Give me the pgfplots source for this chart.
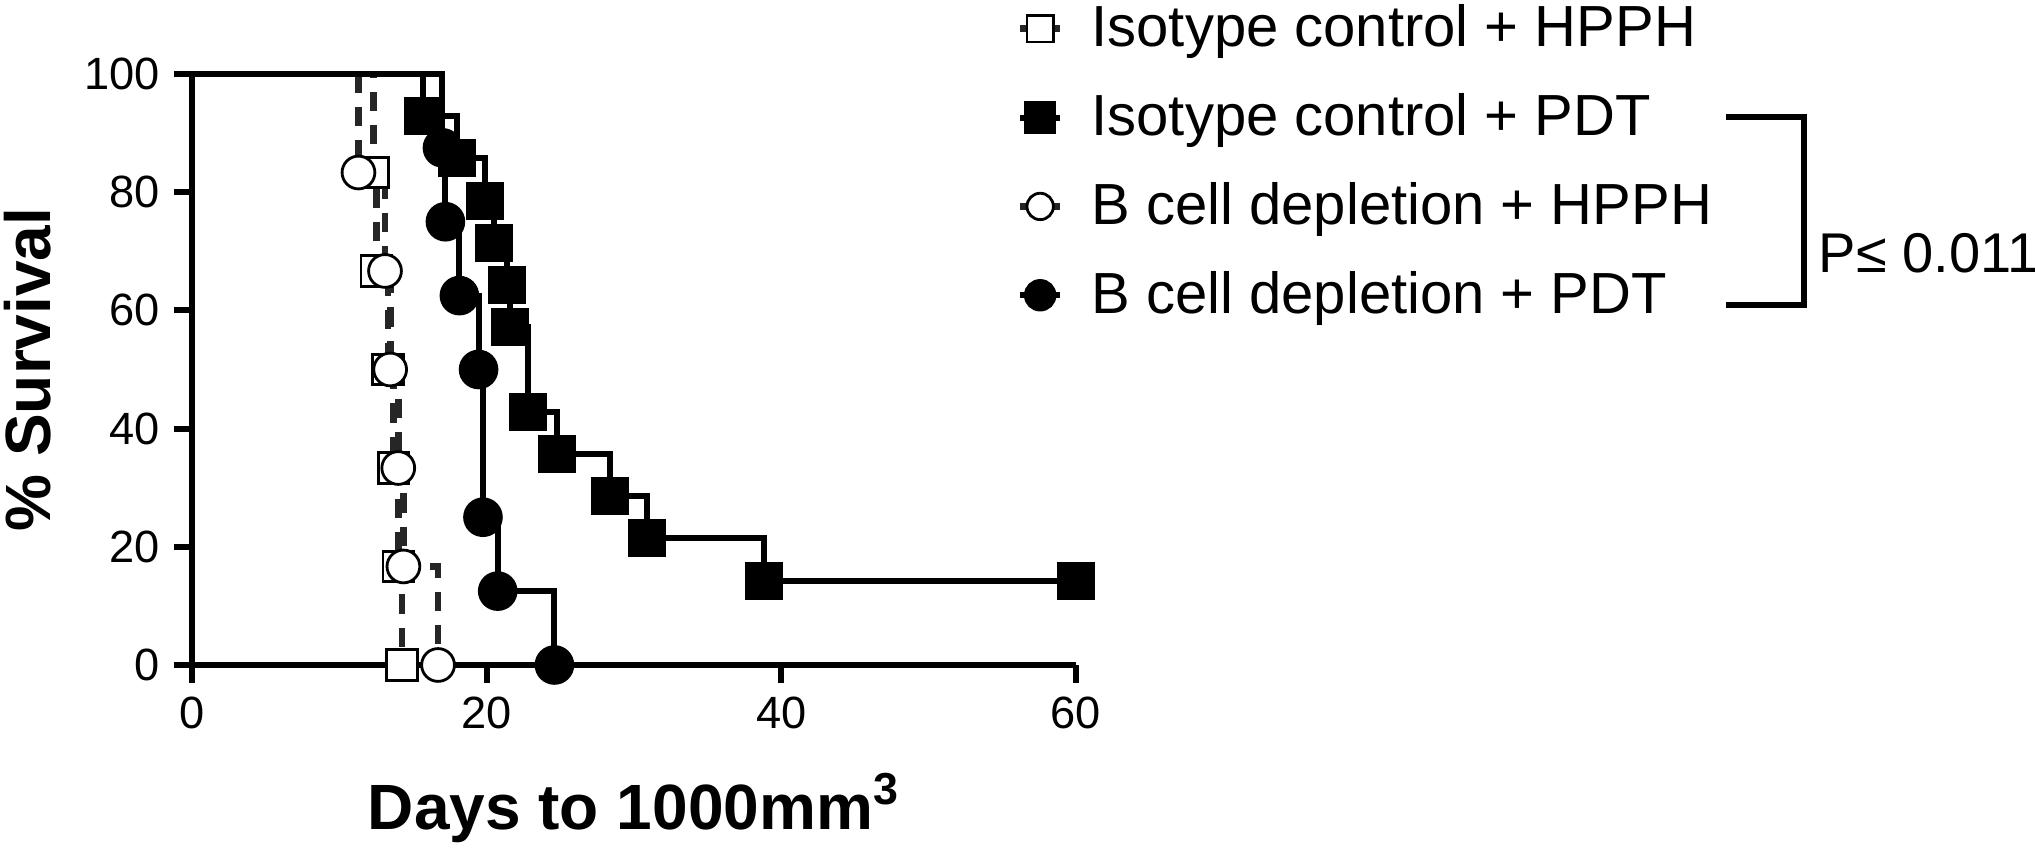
\documentclass[border=0pt]{standalone}
\usepackage{pgfplots}
\pgfplotsset{compat=1.18}
\usepackage{fontspec}
\setmainfont{Liberation Sans}

% Kaplan-Meier steps: (day, % survival); first row is the start at 100
\pgfplotstableread{
x y
0 100
12.3 83.33
12.5 66.67
13.3 50
13.7 33.33
14.0 16.67
14.25 0
}\isoHPPH
\pgfplotstableread{
x y
0 100
15.7 92.86
18.0 85.71
19.9 78.57
20.5 71.43
21.4 64.29
21.55 57.14
22.8 42.86
24.8 35.71
28.4 28.57
30.9 21.43
38.8 14.29
60 14.29
}\isoPDT
\pgfplotstableread{
x y
0 100
11.3 83.33
13.1 66.67
13.45 50
14.0 33.33
14.35 16.67
16.7 0
}\bHPPH
\pgfplotstableread{
x y
0 100
17.0 87.5
17.2 75
18.15 62.5
19.45 50
19.75 25
20.75 12.5
24.6 0
}\bPDT

\begin{document}
\begin{tikzpicture}
\begin{axis}[
    name=ax,
    scale only axis,
    width=221pt, height=147.75pt,
    xmin=0, xmax=60, ymin=0, ymax=100,
    enlargelimits=false,
    clip=false,
    axis x line*=bottom, axis y line*=left,
    axis line style={line width=1.5pt, -},
    xtick={0,20,40,60}, ytick={0,20,40,60,80,100},
    tick align=outside,
    major tick length=4.5pt,
    tick style={line width=1.5pt, black},
    ticklabel style={font=\fontsize{11.3}{13}\selectfont},
    /pgf/number format/assume math mode=true,
    xlabel={\textbf{Days to 1000mm\textsuperscript{3}}},
    ylabel={\textbf{\% Survival}},
    xlabel style={at={(axis description cs:0.5,-0.2792)}, anchor=base,
        font=\fontsize{16}{18}\selectfont},
    ylabel style={at={(axis description cs:-0.1606,0.5)}, anchor=base,
        font=\fontsize{16}{18}\selectfont},
    legend cell align=left,
    legend style={
        at={(rel axis cs:0.9321,1.132)}, anchor=north west,
        draw=none, fill=none, inner sep=0pt,
        font=\fontsize{14.5}{17}\selectfont,
        row sep=6.2pt, column sep=5pt,
    },
    legend image code/.code={
        \draw[mark repeat=2, mark phase=2, #1]
            plot coordinates {(0pt,0pt) (5pt,0pt) (10pt,0pt)};
    },
    legend image post style={solid, mark size=3.3pt},
    every axis plot/.append style={const plot, line width=1.5pt, mark phase=2},
    hppl/.style={black!85, line width=1.7pt, dash pattern=on 4.8pt off 3.5pt},
]
\addplot[hppl, mark=square*, mark size=3.8pt,
    mark options={solid, fill=white, draw=black, line width=0.7pt}]
    table {\isoHPPH};
\addlegendentry{Isotype control + HPPH}

\addplot[black, mark=square*, mark size=4pt,
    mark options={solid, fill=black}]
    table {\isoPDT};
\addlegendentry{Isotype control + PDT}

\addplot[hppl, mark=*, mark size=4.1pt,
    mark options={solid, fill=white, draw=black, line width=0.7pt}]
    table {\bHPPH};
\addlegendentry{B cell depletion + HPPH}

\addplot[black, mark=*, mark size=4.2pt,
    mark options={solid, fill=black}]
    table {\bPDT};
\addlegendentry{B cell depletion + PDT}
\end{axis}

% significance bracket
\draw[line width=1.3pt, line join=miter]
    ([shift={(383.5pt,137pt)}]ax.south west) -- ([shift={(403pt,137pt)}]ax.south west)
    -- ([shift={(403pt,90pt)}]ax.south west) -- ([shift={(383.5pt,90pt)}]ax.south west);
\node[anchor=west, inner sep=0pt, font=\fontsize{14}{16}\selectfont]
    at ([shift={(406.5pt,103pt)}]ax.south west) {P≤ 0.011};

\pgfresetboundingbox
\path[use as bounding box] ([shift={(-48pt,-46.75pt)}]ax.south west) rectangle ++(508.75pt,213pt);
\end{tikzpicture}
\end{document}
